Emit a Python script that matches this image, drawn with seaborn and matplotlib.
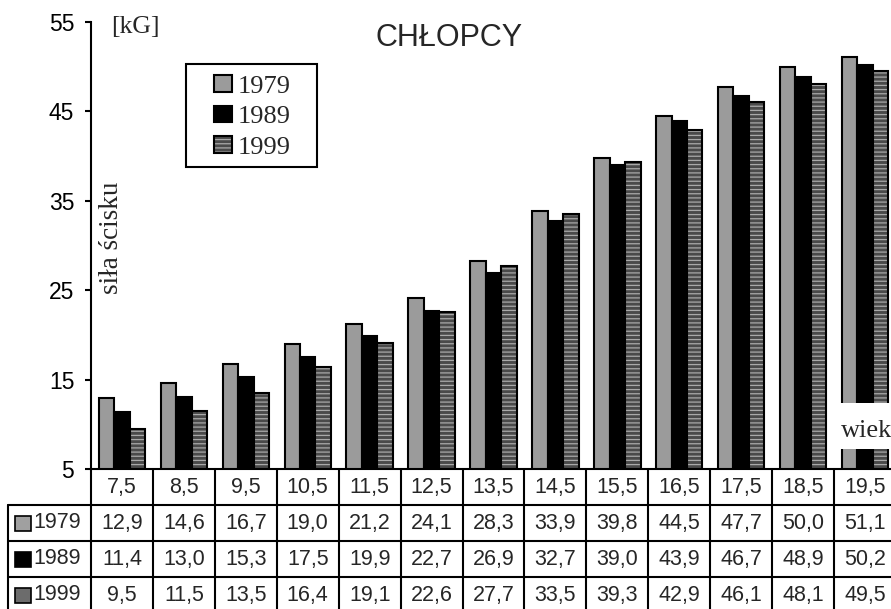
import matplotlib
matplotlib.use("Agg")
import matplotlib.pyplot as plt
import pandas as pd
import seaborn as sns
from matplotlib.patches import Patch, Rectangle
from matplotlib.transforms import blended_transform_factory
from matplotlib.colors import to_rgba

# Hand-grip strength of boys by age, three survey years
ages = ["7,5", "8,5", "9,5", "10,5", "11,5", "12,5", "13,5",
        "14,5", "15,5", "16,5", "17,5", "18,5", "19,5"]
years = ["1979", "1989", "1999"]
v1979 = [12.9, 14.6, 16.7, 19.0, 21.2, 24.1, 28.3, 33.9, 39.8, 44.5, 47.7, 50.0, 51.1]
v1989 = [11.4, 13.0, 15.3, 17.5, 19.9, 22.7, 26.9, 32.7, 39.0, 43.9, 46.7, 48.9, 50.2]
v1999 = [9.5, 11.5, 13.5, 16.4, 19.1, 22.6, 27.7, 33.5, 39.3, 42.9, 46.1, 48.1, 49.5]
y_ticks = [5, 15, 25, 35, 45, 55]

series = {"1979": v1979, "1989": v1989, "1999": v1999}
df = pd.DataFrame({
    "wiek": [a for y in years for a in ages],
    "rok": [y for y in years for _ in ages],
    "sila": [v for y in years for v in series[y]],
})

sns.set_style("ticks")
plt.rcParams["font.family"] = ["Liberation Sans", "DejaVu Sans"]
plt.rcParams["hatch.linewidth"] = 0.9
SERIF = ["Liberation Serif", "DejaVu Serif"]

face = {"1979": "#9b9b9b", "1989": "#000000", "1999": "#4a4a4a"}
key_face = {"1979": "#a0a0a0", "1989": "#000000", "1999": "#6c6c6c"}
STRIPE = "#a9a9a9"
HATCH = "----"

W, H = 891, 609
fig = plt.figure(figsize=(W / 100, H / 100), dpi=100)
AX_L, AX_R, AX_T, AX_B = 91, 896, 22, 469
ax = fig.add_axes([AX_L / W, 1 - AX_B / H, (AX_R - AX_L) / W, (AX_B - AX_T) / H])

sns.barplot(data=df, x="wiek", y="sila", hue="rok", order=ages, hue_order=years,
            palette=face, width=0.75, edgecolor="black", linewidth=1.5,
            saturation=1, errorbar=None, legend=False, ax=ax)

# striped fill for the newest survey
for bar in ax.containers[2]:
    bar.set_hatch(HATCH)
    bar._hatch_color = to_rgba(STRIPE)

ax.set_xlim(-0.5, len(ages) - 0.5)
ax.set_ylim(y_ticks[0], y_ticks[-1])
ax.set_yticks(y_ticks)
ax.set_xlabel("")
ax.set_ylabel("")
ax.tick_params(axis="x", length=0, labelbottom=False)
ax.tick_params(axis="y", length=4, width=1.5, pad=8, labelsize=16.5, colors="black")
for s in ("top", "right"):
    ax.spines[s].set_visible(False)
for s in ("left", "bottom"):
    ax.spines[s].set_linewidth(1.5)
    ax.spines[s].set_color("black")

# helpers: pixel positions -> (data x, axes y)
col_w = (AX_R - AX_L) / len(ages)
def dx(px):
    return -0.5 + (px - AX_L) / col_w
def ay(py):
    return (AX_B - py) / (AX_B - AX_T)

tr = blended_transform_factory(ax.transData, ax.transAxes)
LW = 1.5

# data table under the chart
row_lines = [505, 541, 577]
for py in row_lines:
    ax.plot([dx(8), dx(910)], [ay(py)] * 2, color="black", lw=LW,
            transform=tr, clip_on=False)
for k in range(len(ages) + 1):
    ax.plot([k - 0.5] * 2, [0, ay(620)], color="black", lw=LW,
            transform=tr, clip_on=False)
ax.plot([dx(8)] * 2, [ay(505), ay(620)], color="black", lw=LW,
        transform=tr, clip_on=False)

for i, a in enumerate(ages):
    ax.text(i, ay(487), a, ha="center", va="center", fontsize=15.5,
            transform=tr, clip_on=False)

row_centers = [523, 559, 595]
for y, cy in zip(years, row_centers):
    for i, v in enumerate(series[y]):
        ax.text(i, ay(cy), f"{v:.1f}".replace(".", ","), ha="center", va="center",
                fontsize=15.5, transform=tr, clip_on=False)
    ax.add_patch(Rectangle((dx(15), ay(cy + 7.5)), 16 / col_w, ay(cy - 7.5) - ay(cy + 7.5),
                           facecolor=key_face[y], edgecolor="black", lw=1.2,
                           transform=tr, clip_on=False))
    ax.text(dx(33), ay(cy), y, ha="left", va="center", fontsize=15.5,
            transform=tr, clip_on=False)

# legend inside a rectangular frame
ax.add_patch(Rectangle((dx(186), ay(167)), (317 - 186) / col_w, ay(64) - ay(167),
                       facecolor="white", edgecolor="black", lw=LW,
                       transform=tr, clip_on=False, zorder=4))
handles = [Patch(facecolor=face[y], edgecolor="black", linewidth=1.5,
                 hatch=HATCH if y == "1999" else None) for y in years]
leg = ax.legend(handles, years, loc="upper left",
                bbox_to_anchor=((214 - AX_L) / (AX_R - AX_L), ay(75)),
                frameon=False, borderpad=0, borderaxespad=0,
                handlelength=0.68, handleheight=0.6, handletextpad=0.22,
                labelspacing=0.3, prop={"family": SERIF, "size": 19})
leg.set_zorder(5)
for p in leg.get_patches():
    if p.get_hatch():
        p._hatch_color = to_rgba(STRIPE)

fig.text(449 / W, 1 - 38.5 / H, "CHŁOPCY", ha="center", va="center", fontsize=22)
fig.text(135 / W, 1 - 27 / H, "[kG]", ha="center", va="center",
         family=SERIF, fontsize=18.5)
fig.text(111 / W, 1 - 238 / H, "siła ścisku", ha="center", va="center",
         rotation=90, family=SERIF, fontsize=19.5)

# age caption on a white patch over the last group
fig.add_artist(Rectangle((830 / W, 1 - 449 / H), 80 / W, 46 / H,
                         facecolor="white", edgecolor="none",
                         transform=fig.transFigure, zorder=5))
fig.text(841 / W, 1 - 437 / H, "wiek", ha="left", va="baseline",
         family=SERIF, fontsize=19, zorder=6)

fig.savefig("out.png", dpi=100)
